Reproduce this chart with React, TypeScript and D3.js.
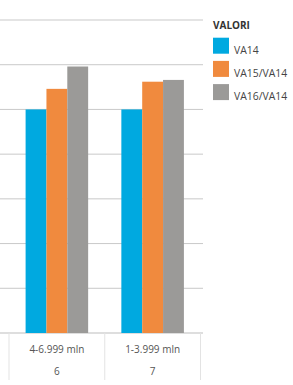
import React from "react";
import * as d3 from "d3";

const categories = ["4-6.999 mln", "1-3.999 mln"];
const counts = ["6", "7"];
const seriesNames = ["VA14", "VA15/VA14", "VA16/VA14"];
const va14 = [5, 5];
const va15 = [5.46, 5.62];
const va16 = [5.96, 5.66];
const colors = ["#00a9e0", "#f08a3e", "#9b9a98"];
const gridTicks = [0, 1, 2, 3, 4, 5, 6, 7];

export default function App() {
  const W = 293, H = 385;
  const y = d3.scaleLinear().domain([0, 7]).range([333, 20]);
  const x = d3.scaleBand<string>().domain(categories).range([9, 200.5]).padding(0);
  const inner = d3
    .scaleBand<string>()
    .domain(seriesNames)
    .range([16.6, x.bandwidth() - 16.6])
    .padding(0);
  const series = [va14, va15, va16];
  const font = "'Open Sans', sans-serif";
  return (
    <svg width={W} height={H} style={{ position: "absolute", left: 0, top: 0, background: "#fff" }}>
      {gridTicks.map((t) => (
        <line key={t} x1={0} x2={203} y1={y(t)} y2={y(t)} stroke={t === 0 ? "#bdbdbd" : "#c9c9c9"} strokeWidth={1} />
      ))}
      {categories.map((c, i) => (
        <g key={c} transform={`translate(${x(c)},0)`}>
          {series.map((s, j) => (
            <rect
              key={j}
              x={inner(seriesNames[j])}
              width={inner.bandwidth()}
              y={y(s[i])}
              height={y(0) - y(s[i])}
              fill={colors[j]}
            />
          ))}
          <text x={x.bandwidth() / 2} y={352.5} textAnchor="middle" fontFamily={font} fontSize={10} fill="#555">
            {c}
          </text>
          <text x={x.bandwidth() / 2} y={374.5} textAnchor="middle" fontFamily={font} fontSize={10} fill="#555">
            {counts[i]}
          </text>
        </g>
      ))}
      {[...categories.map((c) => x(c) as number), 200.5].map((px, i) => (
        <line key={i} x1={px} x2={px} y1={333} y2={380} stroke="#e3e3e3" strokeWidth={1} />
      ))}
      <text x={213} y={29.3} fontFamily={font} fontSize={10} fontWeight="bold" fill="#333">
        VALORI
      </text>
      {seriesNames.map((n, j) => (
        <g key={n}>
          <rect x={213} y={37.7 + j * 23.2} width={16} height={16} fill={colors[j]} />
          <text x={234} y={53.8 + j * 23.2} fontFamily={font} fontSize={10.4} fill="#444">
            {n}
          </text>
        </g>
      ))}
    </svg>
  );
}
